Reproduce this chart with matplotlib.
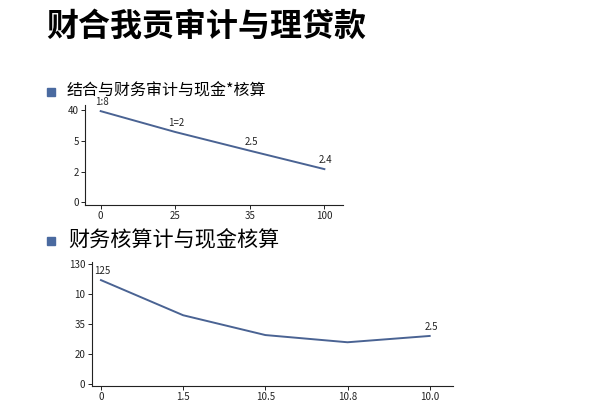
import matplotlib
matplotlib.use('Agg')
import matplotlib.pyplot as plt
from matplotlib.patches import Rectangle

plt.rcParams['font.family'] = ['Noto Sans CJK SC', 'DejaVu Sans']

# 数据
title = '财合我贡审计与理贷款'
sub1 = '结合与财务审计与现金*核算'
sub2 = '财务核算计与现金核算'

x1_labels = ['0', '25', '35', '100']
y1_ticklabels = ['0', '2', '5', '40']
y1_values = [2.97, 2.29, 1.68, 1.08]
y1_notes = ['1:8', '1=2', '2.5', '2.4']

x2_labels = ['0', '1.5', '10.5', '10.8', '10.0']
y2_ticklabels = ['0', '20', '35', '10', '130']
y2_values = [3.47, 2.30, 1.64, 1.40, 1.61]
y2_notes = ['125', '', '', '', '2.5']

line_color = '#4a6393'
box_color = '#4a6aa0'


def style_axes(ax, xlabels, ylabels):
    for s in ['top', 'right']:
        ax.spines[s].set_visible(False)
    for s in ['left', 'bottom']:
        ax.spines[s].set_linewidth(0.8)
        ax.spines[s].set_color('#222222')
    ax.set_xticks(range(len(xlabels)))
    ax.set_xticklabels(xlabels)
    ax.set_yticks(range(len(ylabels)))
    ax.set_yticklabels(ylabels)
    ax.tick_params(labelsize=7, length=3, width=0.7, pad=1.5, colors='#222222')


fig = plt.figure(figsize=(6, 4), dpi=100)

fig.text(0.077, 0.932, title, fontsize=23, fontweight='bold', va='center', ha='left')

# 小标题前的方块
fig.patches.append(Rectangle((0.078, 0.76), 0.014, 0.02, transform=fig.transFigure,
                             color=box_color))
fig.text(0.111, 0.773, sub1, fontsize=11.5, va='center', ha='left')
fig.patches.append(Rectangle((0.078, 0.388), 0.014, 0.02, transform=fig.transFigure,
                             color=box_color))
fig.text(0.113, 0.398, sub2, fontsize=15.2, va='center', ha='left')

# 图1
ax1 = fig.add_axes([0.1417, 0.4875, 0.43, 0.25])
ax1.plot(range(len(y1_values)), y1_values, color=line_color, lw=1.4)
for i, (v, t) in enumerate(zip(y1_values, y1_notes)):
    ax1.annotate(t, (i, v), xytext=(1, 3), textcoords='offset points',
                 ha='center', va='bottom', fontsize=7, color='#222222')
style_axes(ax1, x1_labels, y1_ticklabels)
ax1.set_xlim(-0.21, 3.25)
ax1.set_ylim(-0.09, 3.17)

# 图2
ax2 = fig.add_axes([0.1528, 0.035, 0.6017, 0.309])
ax2.plot(range(len(y2_values)), y2_values, color=line_color, lw=1.4)
for i, (v, t) in enumerate(zip(y2_values, y2_notes)):
    if t:
        ax2.annotate(t, (i, v), xytext=(1, 3), textcoords='offset points',
                     ha='center', va='bottom', fontsize=7, color='#222222')
style_axes(ax2, x2_labels, y2_ticklabels)
ax2.set_xlim(-0.113, 4.28)
ax2.set_ylim(-0.057, 4.06)

fig.savefig('out.png', dpi=100)
